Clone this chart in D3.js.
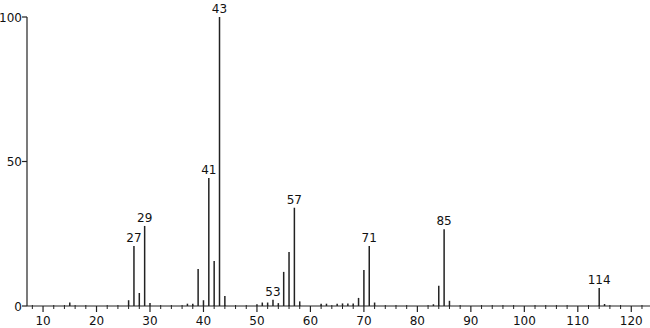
<!DOCTYPE html>
<html>
<head>
<meta charset="utf-8">
<script src="https://cdn.jsdelivr.net/npm/d3@7"></script>
<style>
  body { margin: 0; background: #fff; }
  svg text { font-family: "DejaVu Sans", sans-serif; fill: #111; }
</style>
</head>
<body>
<svg width="650" height="328"></svg>
<script>
// m/z values and relative intensities
let mz =        [15, 26, 27, 28, 29, 30, 37, 38, 39, 40, 41, 42, 43, 44, 50, 51, 52, 53, 54, 55, 56, 57, 58, 62, 63, 65, 66, 67, 68, 69, 70, 71, 72, 83, 84, 85, 86, 114, 115];
let intensity = [1.2, 2, 20.8, 4.5, 27.7, 1, 0.8, 0.8, 12.8, 2, 44.3, 15.6, 100, 3.5, 0.6, 1.2, 1.2, 2.2, 1, 11.8, 18.7, 34, 1.6, 0.8, 0.8, 0.8, 0.9, 0.9, 0.9, 2.8, 12.5, 20.8, 1.2, 0.6, 7, 26.6, 1.8, 6.2, 0.7];
let labelled = [27, 29, 41, 43, 53, 57, 71, 85, 114];
let xTicks = [10, 20, 30, 40, 50, 60, 70, 80, 90, 100, 110, 120];
let yTicks = [0, 50, 100];

function drawSpectrum(){
    let svg = d3.select("svg");

    let x = d3.scaleLinear().domain([7, 123.5]).range([27, 650]);
    let y = d3.scaleLinear().domain([0, 100]).range([306, 17]);

    let peaks = mz.map((m, i) => ({mz: m, value: intensity[i]}));

    // x axis: major every 10, minor every 2
    let xAxis = svg.append("g")
        .attr("transform", "translate(0," + y(0) + ")");
    xAxis.append("line")
        .attr("x1", 27).attr("x2", 650)
        .attr("stroke", "#222").attr("stroke-width", 1.2);
    let minor = d3.range(8, 124, 2).filter(v => v % 10 !== 0);
    xAxis.selectAll(".minor")
        .data(minor)
        .join("line")
        .attr("class", "minor")
        .attr("x1", d => x(d)).attr("x2", d => x(d))
        .attr("y1", -1).attr("y2", 3)
        .attr("stroke", "#222").attr("stroke-width", 1);
    xAxis.selectAll(".major")
        .data(xTicks)
        .join("line")
        .attr("class", "major")
        .attr("x1", d => x(d)).attr("x2", d => x(d))
        .attr("y1", 0).attr("y2", 6)
        .attr("stroke", "#222").attr("stroke-width", 1.2);
    xAxis.selectAll("text")
        .data(xTicks)
        .join("text")
        .attr("x", d => x(d))
        .attr("y", 19)
        .attr("text-anchor", "middle")
        .attr("font-size", 12)
        .text(d => d);

    // y axis
    let yAxis = svg.append("g");
    yAxis.append("line")
        .attr("x1", 27).attr("x2", 27)
        .attr("y1", y(100)).attr("y2", y(0))
        .attr("stroke", "#222").attr("stroke-width", 1.2);
    yAxis.selectAll(".tick")
        .data(yTicks)
        .join("line")
        .attr("class", "tick")
        .attr("x1", 22).attr("x2", 27)
        .attr("y1", d => y(d)).attr("y2", d => y(d))
        .attr("stroke", "#222").attr("stroke-width", 1.2);
    yAxis.selectAll("text")
        .data(yTicks)
        .join("text")
        .attr("x", 22)
        .attr("y", d => y(d) + 4.5)
        .attr("text-anchor", "end")
        .attr("font-size", 12)
        .text(d => d);

    // sticks
    svg.append("g")
        .selectAll("line")
        .data(peaks)
        .join("line")
        .attr("x1", d => x(d.mz)).attr("x2", d => x(d.mz))
        .attr("y1", y(0)).attr("y2", d => y(d.value))
        .attr("stroke", "#222")
        .attr("stroke-width", 1.5);

    // peak labels
    svg.append("g")
        .selectAll("text")
        .data(peaks.filter(d => labelled.includes(d.mz)))
        .join("text")
        .attr("x", d => x(d.mz))
        .attr("y", d => y(d.value) - 4)
        .attr("text-anchor", "middle")
        .attr("font-size", 12)
        .text(d => d.mz);
}

drawSpectrum();
</script>
</body>
</html>
